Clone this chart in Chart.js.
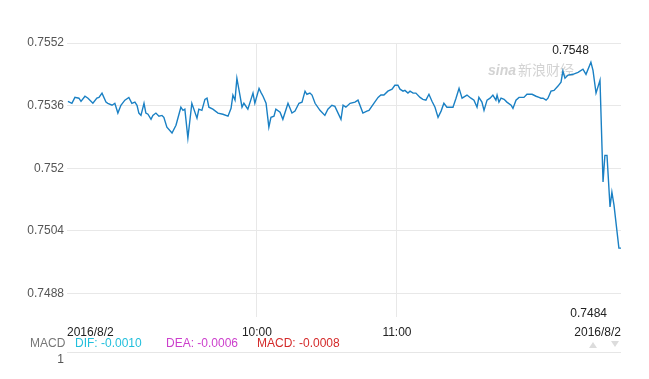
<!DOCTYPE html>
<html><head><meta charset="utf-8">
<script src="https://cdn.jsdelivr.net/npm/chart.js@4/dist/chart.umd.min.js"></script>
<style>html,body{margin:0;padding:0;background:#fff;}#wrap{width:649px;height:379px;position:relative}</style>
</head><body><div id="wrap"><canvas id="c" width="649" height="379"></canvas></div>
<script>
// minutes since 00:00 (Beijing time)
const times = [519.0,520.7,522.0,523.7,524.6,526.3,527.6,529.7,531.4,532.3,533.6,535.3,536.1,537.9,539.1,540.4,541.7,543.4,545.1,546.4,547.7,548.6,549.4,550.3,551.6,552.4,553.3,554.6,555.4,556.7,558.0,559.3,560.1,561.4,563.6,565.3,567.4,568.3,569.1,570.4,572.1,574.3,575.1,576.4,577.7,578.6,579.4,581.1,583.3,585.4,587.6,588.9,589.7,590.6,591.4,592.7,593.6,594.4,596.1,598.3,599.1,600.9,601.7,602.6,603.9,605.1,606.0,607.3,608.1,609.9,611.1,613.3,615.0,616.3,618.0,619.3,620.6,621.4,622.7,623.6,624.9,627.0,629.1,630.4,632.1,633.4,636.0,636.9,638.1,639.9,642.0,643.3,645.4,647.1,648.0,650.1,651.9,653.1,654.4,656.1,657.9,659.1,660.4,661.3,662.6,663.4,664.7,665.6,666.9,668.1,669.9,671.1,672.4,673.7,675.0,676.3,677.6,678.9,680.1,681.4,684.0,685.3,686.6,687.9,690.0,691.7,693.0,694.3,695.1,696.4,697.3,698.6,699.9,701.1,702.4,702.9,703.7,704.6,705.9,707.1,708.9,709.7,711.0,712.3,714.4,715.7,717.9,719.6,720.9,721.7,722.6,723.9,724.7,726.0,727.3,729.0,730.3,731.1,732.0,733.3,735.4,737.6,739.7,741.0,743.1,744.0,745.3,747.0,748.3,749.1,750.0,751.3,752.1,753.0,755.1,756.0];
const prices = [0.75371,0.75366,0.75381,0.75379,0.75371,0.75384,0.75379,0.75366,0.75379,0.75381,0.75392,0.75369,0.75366,0.75361,0.75366,0.75341,0.75361,0.75374,0.75381,0.75366,0.75369,0.75361,0.75341,0.75335,0.75366,0.75341,0.75338,0.75325,0.75335,0.75341,0.75333,0.75335,0.75330,0.75305,0.75290,0.75310,0.75356,0.75348,0.75351,0.75277,0.75366,0.75328,0.75351,0.75348,0.75376,0.75379,0.75356,0.75351,0.75341,0.75338,0.75333,0.75353,0.75387,0.75374,0.75430,0.75387,0.75356,0.75366,0.75351,0.75392,0.75366,0.75404,0.75394,0.75384,0.75366,0.75305,0.75330,0.75333,0.75351,0.75343,0.75325,0.75366,0.75341,0.75346,0.75366,0.75369,0.75397,0.75389,0.75392,0.75387,0.75366,0.75348,0.75335,0.75351,0.75361,0.75358,0.75325,0.75361,0.75356,0.75366,0.75369,0.75374,0.75341,0.75346,0.75348,0.75366,0.75381,0.75387,0.75387,0.75397,0.75402,0.75412,0.75412,0.75402,0.75397,0.75399,0.75392,0.75397,0.75392,0.75392,0.75381,0.75376,0.75374,0.75389,0.75371,0.75356,0.75330,0.75346,0.75366,0.75356,0.75356,0.75379,0.75404,0.75379,0.75387,0.75379,0.75374,0.75356,0.75381,0.75369,0.75348,0.75374,0.75379,0.75387,0.75374,0.75387,0.75369,0.75379,0.75376,0.75369,0.75361,0.75353,0.75374,0.75381,0.75381,0.75389,0.75389,0.75384,0.75381,0.75379,0.75379,0.75374,0.75379,0.75397,0.75399,0.75410,0.75420,0.75448,0.75430,0.75438,0.75440,0.75445,0.75453,0.75440,0.75471,0.75450,0.75392,0.75425,0.75165,0.75233,0.75233,0.75101,0.75139,0.75106,0.74996,0.74996];
const yTicks = [0.7488, 0.7504, 0.752, 0.7536, 0.7552];
const xTickMinutes = [600, 660];
const xTickLabels = ['10:00', '11:00'];
const dateLabel = '2016/8/2';
const highLabel = '0.7548';
const lowLabel = '0.7484';
const lowValue = 0.7484;
const macdTitle = 'MACD';
const macdLabels = ['DIF: -0.0010', 'DEA: -0.0006', 'MACD: -0.0008'];
const macdAxisLabel = '1';
const watermarkLatin = 'sina';
const watermarkCJK = '新浪财经';

const FONT = "'Liberation Sans', Arial, sans-serif";
Chart.defaults.font.family = FONT;

const points = times.map((t, i) => ({x: t, y: prices[i]}));

const overlay = {
  id: 'overlay',
  beforeDatasetsDraw(chart) {
    const ctx = chart.ctx;
    ctx.save();
    ctx.fillStyle = 'rgba(200,200,200,0.8)';
    ctx.textBaseline = 'middle';
    ctx.textAlign = 'left';
    ctx.font = "italic bold 14px " + FONT;
    ctx.fillText(watermarkLatin, 488, 71);
    ctx.font = "14px 'Noto Sans CJK SC', sans-serif";
    ctx.fillText(watermarkCJK, 518, 70);
    ctx.restore();
  },
  afterDraw(chart) {
    const ctx = chart.ctx;
    const xs = chart.scales.x, ys = chart.scales.y;
    const ca = chart.chartArea;
    ctx.save();
    ctx.font = "12px " + FONT;
    ctx.textBaseline = 'middle';
    // date labels
    ctx.fillStyle = '#222';
    ctx.textAlign = 'left';
    ctx.fillText(dateLabel, ca.left, 333);
    ctx.textAlign = 'right';
    ctx.fillText(dateLabel, ca.right, 333);
    // high label
    let hi = 0;
    prices.forEach((p, i) => { if (p > prices[hi]) hi = i; });
    ctx.textAlign = 'right';
    ctx.fillStyle = '#222';
    ctx.fillText(highLabel, xs.getPixelForValue(times[hi]) - 2, ys.getPixelForValue(prices[hi]) - 11);
    // low label
    ctx.fillText(lowLabel, xs.getPixelForValue(times[times.length - 1]) - 14, ys.getPixelForValue(lowValue) + 5);
    // MACD row
    ctx.textAlign = 'left';
    ctx.fillStyle = '#777';
    ctx.fillText(macdTitle, 30, 344);
    const cols = ['#22bfdc', '#cc3fcc', '#d42a2a'];
    const xsTxt = [75, 166, 257];
    macdLabels.forEach((t, i) => { ctx.fillStyle = cols[i]; ctx.fillText(t, xsTxt[i], 344); });
    ctx.strokeStyle = '#e6e6e6';
    ctx.lineWidth = 1;
    ctx.beginPath(); ctx.moveTo(ca.left, 352.5); ctx.lineTo(ca.right, 352.5); ctx.stroke();
    ctx.fillStyle = '#555';
    ctx.textAlign = 'right';
    ctx.fillText(macdAxisLabel, 64, 360);
    // triangles
    ctx.fillStyle = '#dcdcdc';
    ctx.beginPath(); ctx.moveTo(589, 348); ctx.lineTo(597, 348); ctx.lineTo(593, 342); ctx.closePath(); ctx.fill();
    ctx.beginPath(); ctx.moveTo(611, 341); ctx.lineTo(619, 341); ctx.lineTo(615, 347); ctx.closePath(); ctx.fill();
    ctx.restore();
  }
};

new Chart(document.getElementById('c'), {
  type: 'line',
  data: { datasets: [{ data: points, borderColor: '#1a80c4', borderWidth: 1.4, pointRadius: 0, tension: 0, fill: false }] },
  options: {
    responsive: false, animation: false, devicePixelRatio: 1,
    layout: { padding: { top: 43, right: 28, left: 0, bottom: 0 } },
    plugins: { legend: { display: false }, tooltip: { enabled: false } },
    scales: {
      x: {
        type: 'linear', min: 518.6, max: 756,
        afterBuildTicks(s) { s.ticks = xTickMinutes.map(v => ({value: v})); },
        afterFit(s) { s.height = 62; },
        border: { display: false },
        grid: { color: '#e8e8e8', drawTicks: false },
        ticks: { padding: 8, color: '#222', font: { size: 12 },
          callback(v) { const i = xTickMinutes.indexOf(v); return i >= 0 ? xTickLabels[i] : ''; },
          maxRotation: 0, autoSkip: false }
      },
      y: {
        min: 0.7482, max: 0.7552,
        afterBuildTicks(s) { s.ticks = yTicks.map(v => ({value: v})); },
        afterFit(s) { s.width = 67; },
        border: { display: false },
        grid: { color: '#e8e8e8', drawTicks: false },
        ticks: { padding: 3, color: '#555', font: { size: 12 }, callback(v) { return String(+v.toFixed(4)); } }
      }
    }
  },
  plugins: [overlay]
});
</script></body></html>
